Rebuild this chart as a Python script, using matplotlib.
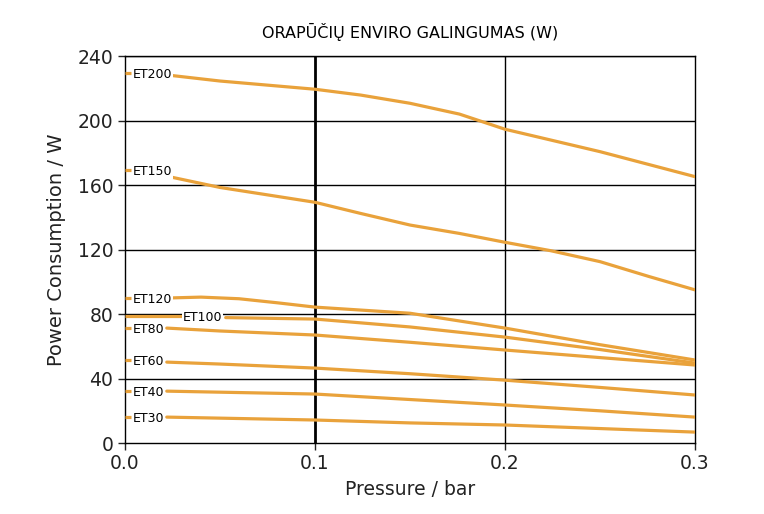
import matplotlib
matplotlib.use("Agg")
import matplotlib.pyplot as plt

# duomenys nuskaityti nuo originalaus grafiko
names = ["ET200", "ET150", "ET120", "ET100", "ET80", "ET60", "ET40", "ET30"]

# trumpas bruksnelis prie x=0 (pradine reiksme)
stub_y = [229.5, 169.3, 90.0, 78.8, 71.3, 51.5, 32.2, 16.1]

# kreives po etiketes
curve_x = {
    "ET200": [0.024, 0.05, 0.1, 0.124, 0.15, 0.176, 0.2, 0.25, 0.3],
    "ET150": [0.024, 0.05, 0.1, 0.124, 0.15, 0.176, 0.2, 0.224, 0.25, 0.276, 0.3],
    "ET120": [0.024, 0.04, 0.06, 0.08, 0.1, 0.15, 0.2, 0.25, 0.3],
    "ET100": [0.053, 0.1, 0.15, 0.2, 0.25, 0.3],
    "ET80":  [0.022, 0.05, 0.1, 0.15, 0.2, 0.25, 0.3],
    "ET60":  [0.022, 0.05, 0.1, 0.15, 0.2, 0.25, 0.3],
    "ET40":  [0.022, 0.1, 0.15, 0.2, 0.25, 0.3],
    "ET30":  [0.022, 0.1, 0.15, 0.2, 0.25, 0.3],
}
curve_y = {
    "ET200": [228, 224.5, 219.4, 215.8, 210.7, 204, 194.6, 180.7, 165.2],
    "ET150": [165, 158.5, 149.3, 142.4, 135.2, 130, 124.5, 119.3, 112.5, 103.2, 95],
    "ET120": [90, 90.5, 89.5, 87, 84.3, 80.5, 71.3, 61, 51.5],
    "ET100": [77.8, 76.9, 72, 65.7, 58, 49.6],
    "ET80":  [71.3, 69.5, 67, 62.5, 57.7, 53, 48.4],
    "ET60":  [50.2, 49, 46.5, 43, 39, 34.5, 29.8],
    "ET40":  [32.2, 30.4, 27, 23.6, 20, 16.1],
    "ET30":  [16.1, 14.3, 12.5, 11.2, 9, 6.8],
}

x_ticks = [0.0, 0.1, 0.2, 0.3]
y_ticks = [0, 40, 80, 120, 160, 200, 240]

orange = "#E9A23B"

fig = plt.figure(figsize=(7.64, 5.14), dpi=100)
ax = fig.add_axes([0.1636, 0.138, 0.7461, 0.753])

# tinklelis
for yv in y_ticks[1:]:
    ax.axhline(yv, color="black", lw=1.0, zorder=1)
ax.axvline(0.1, color="black", lw=2.0, zorder=1)
ax.axvline(0.2, color="black", lw=1.0, zorder=1)

for i, n in enumerate(names):
    if n == "ET100":
        ax.plot([0, 0.030], [stub_y[i], stub_y[i]], color=orange, lw=2.3,
                solid_capstyle="butt", zorder=3)
        ax.text(0.0305, stub_y[i] - 1, n, fontsize=9, va="center", ha="left",
                zorder=4, bbox=dict(facecolor="white", edgecolor="none", pad=0.5))
    else:
        ax.plot([0, 0.003], [stub_y[i], stub_y[i]], color=orange, lw=2.3,
                solid_capstyle="butt", zorder=3)
        ax.text(0.0042, stub_y[i] - 1, n, fontsize=9, va="center", ha="left",
                zorder=4, bbox=dict(facecolor="white", edgecolor="none", pad=0.5))
    ax.plot(curve_x[n], curve_y[n], color=orange, lw=2.3, zorder=3,
            solid_joinstyle="round", solid_capstyle="round")

ax.set_xlim(0, 0.3)
ax.set_ylim(0, 240)
ax.set_xticks(x_ticks)
ax.set_xticklabels(["0.0", "0.1", "0.2", "0.3"])
ax.set_yticks(y_ticks)
ax.tick_params(direction="out", length=5, labelsize=13.5, colors="#222222",
               width=1)
ax.tick_params(axis="x", pad=3)
for s in ax.spines.values():
    s.set_linewidth(1.0)

ax.set_xlabel("Pressure / bar", fontsize=13.5, color="#222222", labelpad=5)
ax.set_ylabel("Power Consumption / W", fontsize=14, color="#222222",
              labelpad=8)
ax.set_title("ORAPŪČIŲ ENVIRO GALINGUMAS (W)", fontsize=11.5, pad=13)

fig.savefig("out.png", dpi=100)
